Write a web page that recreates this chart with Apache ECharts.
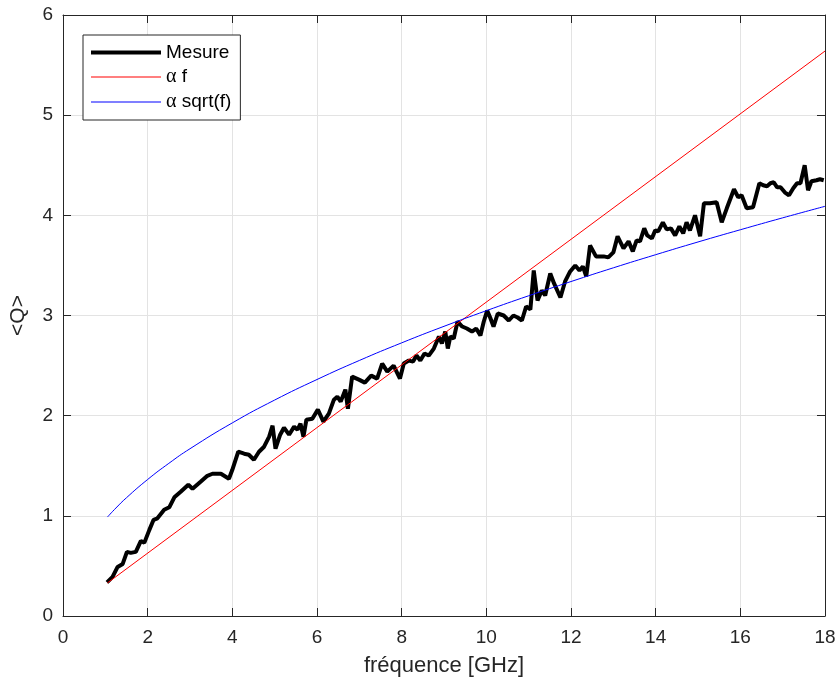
<!DOCTYPE html>
<html>
<head>
<meta charset="utf-8">
<script src="https://cdn.jsdelivr.net/npm/echarts@6/dist/echarts.min.js"></script>
<style>html,body{margin:0;padding:0;background:#fff;}#c{width:839px;height:684px;}</style>
</head>
<body>
<div id="c"></div>
<script>
// Measured curve
const measFreq = [1.04,1.17,1.29,1.41,1.51,1.60,1.72,1.84,1.92,2.04,2.14,2.23,2.39,2.51,2.63,2.78,2.96,3.06,3.25,3.41,3.53,3.73,3.92,4.00,
4.14,4.28,4.39,4.51,4.63,4.75,4.87,4.95,5.02,5.13,5.22,5.34,5.46,5.54,5.61,5.68,5.75,5.89,6.02,6.15,6.28,6.40,6.48,6.56,6.67,6.73,6.83,6.99,
7.13,7.28,7.42,7.54,7.66,7.81,7.96,8.05,8.17,8.27,8.35,8.44,8.54,8.64,8.76,8.88,8.95,9.03,9.09,9.15,9.23,9.32,9.43,9.54,9.66,9.76,9.86,9.94,
10.02,10.09,10.17,10.27,10.41,10.53,10.64,10.74,10.84,10.94,11.04,11.12,11.21,11.31,11.39,11.51,11.60,11.75,11.86,11.98,12.10,12.20,12.28,12.36,
12.45,12.59,12.77,12.88,13.00,13.10,13.24,13.36,13.46,13.55,13.63,13.73,13.80,13.91,13.99,14.06,14.17,14.26,14.36,14.46,14.56,14.65,14.73,14.81,
14.93,15.05,15.14,15.28,15.44,15.56,15.68,15.85,15.95,16.03,16.15,16.30,16.45,16.54,16.63,16.71,16.79,16.87,16.95,17.05,17.15,17.25,17.34,17.42,
17.52,17.60,17.68,17.80,17.88,17.97];
const measQ = [0.336,0.39,0.49,0.52,0.64,0.63,0.64,0.75,0.73,0.86,0.96,0.975,1.06,1.085,1.185,1.24,1.31,1.27,1.34,1.40,1.42,1.42,1.37,1.46,
1.64,1.62,1.61,1.56,1.64,1.69,1.79,1.90,1.67,1.81,1.88,1.81,1.89,1.86,1.92,1.79,1.96,1.97,2.06,1.94,2.02,2.16,2.19,2.14,2.26,2.07,2.39,2.36,
2.33,2.40,2.37,2.52,2.44,2.50,2.37,2.52,2.55,2.54,2.60,2.55,2.62,2.60,2.67,2.79,2.72,2.84,2.67,2.79,2.77,2.94,2.89,2.87,2.84,2.87,2.80,2.94,
3.05,2.98,2.89,3.02,3.00,2.95,3.00,2.98,2.95,3.09,3.06,3.45,3.15,3.25,3.20,3.42,3.32,3.18,3.34,3.44,3.50,3.45,3.49,3.39,
3.70,3.59,3.59,3.58,3.63,3.79,3.67,3.74,3.64,3.75,3.74,3.87,3.80,3.77,3.85,3.84,3.93,3.86,3.87,3.80,3.89,3.82,3.93,3.85,
4.00,3.79,4.12,4.12,4.13,3.93,4.07,4.26,4.18,4.20,4.07,4.08,4.32,4.30,4.29,4.32,4.33,4.28,4.28,4.23,4.20,4.27,4.32,4.32,
4.50,4.25,4.34,4.35,4.36,4.35];
// alpha f (straight line, endpoints)
const linFreq = [1.05, 18];
const linQ = [0.33, 5.64];
// alpha sqrt(f)
const sqrtFreq = [1.05,1.25,1.5,2,2.5,3,4,5,6,7,8,9,10,11,12,13,14,15,16,17,18];
const sqrtQ = [0.988,1.078,1.181,1.363,1.524,1.670,1.928,2.156,2.361,2.551,2.727,2.892,3.048,3.197,3.339,3.476,3.607,3.734,3.856,3.975,4.090];
// axis ticks
const xMin = 0, xMax = 18, xStep = 2;
const yMin = 0, yMax = 6, yStep = 1;
const seriesNames = ['Mesure', 'α f', 'α sqrt(f)'];

const pair = (xs, ys) => xs.map((x, i) => [x, ys[i]]);
const axisColor = '#262626';
const gridColor = '#e3e3e3';
const font = 'Liberation Sans, Arial, Helvetica, sans-serif';

const chart = echarts.init(document.getElementById('c'), null, {renderer: 'canvas'});
const baseX = {
  type: 'value', min: xMin, max: xMax, interval: xStep,
  axisLine: {show: true, onZero: false, lineStyle: {color: axisColor, width: 1}},
  axisTick: {show: true, inside: true, length: 8, lineStyle: {color: axisColor}},
  splitLine: {show: false}
};
const baseY = {
  type: 'value', min: yMin, max: yMax, interval: yStep,
  axisLine: {show: true, onZero: false, lineStyle: {color: axisColor, width: 1}},
  axisTick: {show: true, inside: true, length: 8, lineStyle: {color: axisColor}},
  splitLine: {show: false}
};
chart.setOption({
  animation: false,
  backgroundColor: '#fff',
  grid: {left: 62, right: 14, top: 15, bottom: 68, containLabel: false},
  xAxis: [
    Object.assign({}, baseX, {
      position: 'bottom',
      name: 'fréquence [GHz]', nameLocation: 'middle', nameGap: 39,
      nameTextStyle: {fontFamily: font, fontSize: 22, color: axisColor},
      axisLabel: {fontFamily: font, fontSize: 19, color: axisColor, margin: 12},
      splitLine: {show: true, lineStyle: {color: gridColor, width: 1}}
    }),
    Object.assign({}, baseX, {position: 'top', axisLabel: {show: false}})
  ],
  yAxis: [
    Object.assign({}, baseY, {
      position: 'left',
      name: '<Q>', nameLocation: 'middle', nameGap: 34, nameRotate: 90,
      nameTextStyle: {fontFamily: font, fontSize: 21, color: axisColor},
      axisLabel: {fontFamily: font, fontSize: 19, color: axisColor, margin: 10},
      splitLine: {show: true, lineStyle: {color: gridColor, width: 1}}
    }),
    Object.assign({}, baseY, {position: 'right', axisLabel: {show: false}})
  ],
  legend: {
    orient: 'vertical', left: 83, top: 35,
    padding: [8, 9, 8, 8],
    itemWidth: 70, itemHeight: 14, itemGap: 5,
    backgroundColor: '#fff', borderColor: axisColor, borderWidth: 1,
    textStyle: {fontFamily: font, fontSize: 19, color: '#000',
      rich: {g: {fontFamily: 'Liberation Serif, DejaVu Serif, serif', fontSize: 20, color: '#000'}}},
    formatter: function (name) {
      if (name === seriesNames[0]) return name;
      return '{g|α} ' + name.slice(2);
    },
    data: [
      {name: seriesNames[0], icon: 'path://M0,0L70,0L70,4L0,4Z', itemStyle: {color: '#000'}},
      {name: seriesNames[1], icon: 'path://M0,0L70,0L70,1L0,1Z', itemStyle: {color: '#ff0000'}},
      {name: seriesNames[2], icon: 'path://M0,0L70,0L70,1L0,1Z', itemStyle: {color: '#0000ff'}}
    ]
  },
  series: [
    {name: seriesNames[0], type: 'line', data: pair(measFreq, measQ), showSymbol: false, symbol: 'none',
     lineStyle: {color: '#000', width: 4}, itemStyle: {color: '#000'}, z: 2},
    {name: seriesNames[1], type: 'line', data: pair(linFreq, linQ), showSymbol: false, symbol: 'none',
     lineStyle: {color: '#ff0000', width: 1}, itemStyle: {color: '#ff0000'}, z: 3},
    {name: seriesNames[2], type: 'line', data: pair(sqrtFreq, sqrtQ), smooth: true, showSymbol: false, symbol: 'none',
     lineStyle: {color: '#0000ff', width: 1}, itemStyle: {color: '#0000ff'}, z: 4}
  ]
});
</script>
</body>
</html>
